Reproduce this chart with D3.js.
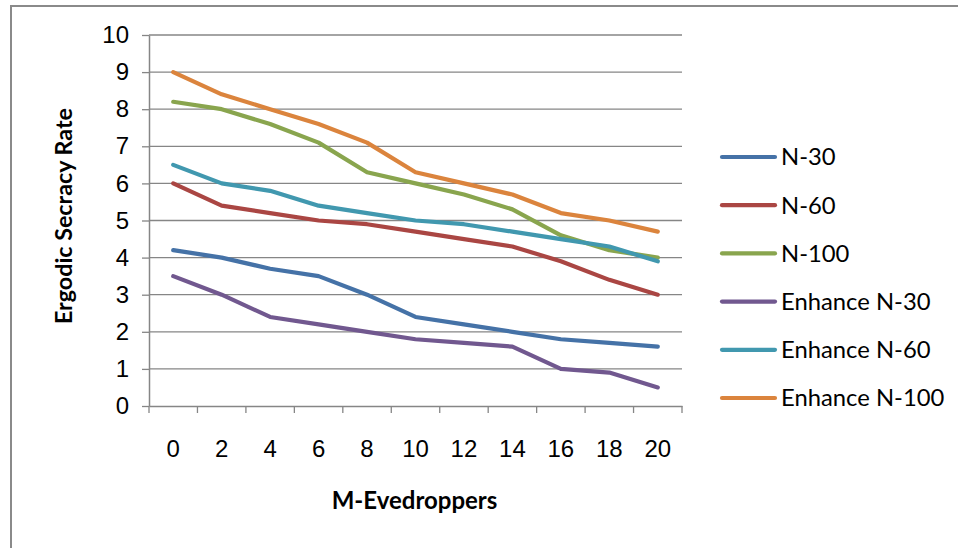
<!DOCTYPE html>
<html>
<head>
<meta charset="utf-8">
<script src="https://cdn.jsdelivr.net/npm/d3@7"></script>
<style>
  html, body { margin: 0; padding: 0; background: #fff; }
  svg { display: block; font-family: "Lato", "Liberation Sans", sans-serif; }
</style>
</head>
<body>
<svg id="chart" width="958" height="548"></svg>
<script>
// Number of eavesdroppers on the x axis
const categories = ["0", "2", "4", "6", "8", "10", "12", "14", "16", "18", "20"];
const yTicks = [0, 1, 2, 3, 4, 5, 6, 7, 8, 9, 10];

const seriesNames = ["N-30", "N-60", "N-100", "Enhance N-30", "Enhance N-60", "Enhance N-100"];
const n30 =   [4.2, 4.0, 3.7, 3.5, 3.0, 2.4, 2.2, 2.0, 1.8, 1.7, 1.6];
const n60 =   [6.0, 5.4, 5.2, 5.0, 4.9, 4.7, 4.5, 4.3, 3.9, 3.4, 3.0];
const n100 =  [8.2, 8.0, 7.6, 7.1, 6.3, 6.0, 5.7, 5.3, 4.6, 4.2, 4.0];
const enh30 = [3.5, 3.0, 2.4, 2.2, 2.0, 1.8, 1.7, 1.6, 1.0, 0.9, 0.5];
const enh60 = [6.5, 6.0, 5.8, 5.4, 5.2, 5.0, 4.9, 4.7, 4.5, 4.3, 3.9];
const enh100 =[9.0, 8.4, 8.0, 7.6, 7.1, 6.3, 6.0, 5.7, 5.2, 5.0, 4.7];
const colors = ["#4572A7", "#AA4643", "#89A54E", "#71588F", "#4198AF", "#DB843D"];

const series = [n30, n60, n100, enh30, enh60, enh100].map((values, i) => ({
  name: seriesNames[i], values, color: colors[i]
}));

const svg = d3.select("#chart");
const plot = { left: 149, right: 682, top: 35, bottom: 406 };
const axisGray = "#868686";

// Outer chart frame (runs off the right and bottom edges)
svg.append("rect")
  .attr("x", 11).attr("y", 6)
  .attr("width", 1000).attr("height", 600)
  .attr("fill", "none").attr("stroke", "#8a8a8a").attr("stroke-width", 2);

const x = d3.scaleBand().domain(categories).range([plot.left, plot.right]).padding(0);
const y = d3.scaleLinear().domain([0, 10]).range([plot.bottom, plot.top]);
const cx = d => x(d) + x.bandwidth() / 2;

// Horizontal gridlines
svg.append("g").selectAll("line")
  .data(yTicks.filter(t => t > 0))
  .join("line")
  .attr("x1", plot.left).attr("x2", plot.right)
  .attr("y1", d => y(d)).attr("y2", d => y(d))
  .attr("stroke", axisGray).attr("stroke-width", 1.3);

// Y axis
const yAxis = svg.append("g")
  .attr("transform", `translate(${plot.left},0)`)
  .call(d3.axisLeft(y).tickValues(yTicks).tickSize(7).tickPadding(13).tickSizeOuter(0));
yAxis.select(".domain").attr("stroke", axisGray).attr("stroke-width", 1.5);
yAxis.selectAll(".tick line").attr("stroke", axisGray).attr("stroke-width", 1.3);
yAxis.selectAll("text").attr("font-size", 24).attr("fill", "#000");

// X axis: labels centred in each category band
const xAxis = svg.append("g")
  .attr("transform", `translate(0,${plot.bottom})`)
  .call(d3.axisBottom(x).tickSize(0).tickPadding(34).tickSizeOuter(0));
xAxis.select(".domain").attr("stroke", axisGray).attr("stroke-width", 1.5);
xAxis.selectAll("text").attr("font-size", 24).attr("fill", "#000");

// Tick marks on the band boundaries
xAxis.append("g").selectAll("line")
  .data(d3.range(categories.length + 1))
  .join("line")
  .attr("x1", i => x.range()[0] + i * x.step())
  .attr("x2", i => x.range()[0] + i * x.step())
  .attr("y1", 0).attr("y2", 7)
  .attr("stroke", axisGray).attr("stroke-width", 1.3);

// Series lines
const line = d3.line()
  .x((d, i) => cx(categories[i]))
  .y(d => y(d));

svg.append("g").selectAll("path")
  .data(series)
  .join("path")
  .attr("d", d => line(d.values))
  .attr("fill", "none")
  .attr("stroke", d => d.color)
  .attr("stroke-width", 4.2)
  .attr("stroke-linecap", "round")
  .attr("stroke-linejoin", "round");

// Axis titles
svg.append("text")
  .attr("x", (plot.left + plot.right) / 2 - 1).attr("y", 509)
  .attr("text-anchor", "middle")
  .attr("font-size", 24).attr("font-weight", "bold")
  .text("M-Evedroppers");

svg.append("text")
  .attr("transform", "translate(72,216) rotate(-90)")
  .attr("text-anchor", "middle")
  .attr("font-size", 23.3).attr("font-weight", "bold")
  .text("Ergodic Secracy Rate");

// Legend
const legend = svg.append("g").attr("transform", "translate(722,157)");
const rows = legend.selectAll("g")
  .data(series)
  .join("g")
  .attr("transform", (d, i) => `translate(0,${i * 48.2})`);
rows.append("line")
  .attr("x1", 0).attr("x2", 53)
  .attr("stroke", d => d.color)
  .attr("stroke-width", 4.2)
  .attr("stroke-linecap", "round");
rows.append("text")
  .attr("x", 59).attr("dy", "0.35em")
  .attr("font-size", 23.8)
  .text(d => d.name);
</script>
</body>
</html>
